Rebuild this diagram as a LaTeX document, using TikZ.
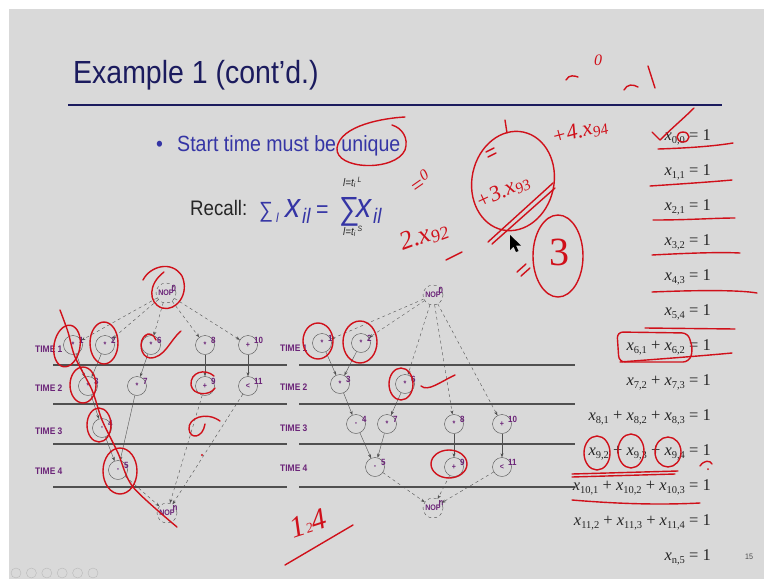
\documentclass[tikz,border=0pt]{standalone}
\usepackage{fontspec}
\setmainfont{Liberation Serif}
\newfontfamily\slidefont[FakeStretch=0.89]{Liberation Sans}
\newfontfamily\eqfont{Liberation Serif}
\usetikzlibrary{arrows.meta}
\definecolor{slidebg}{HTML}{D9D9D9}
\definecolor{titleblue}{HTML}{1B1B5E}
\definecolor{textblue}{HTML}{3535A5}
\definecolor{nodepurple}{HTML}{6B2478}
\definecolor{inkred}{HTML}{D0101A}
\definecolor{rulegray}{HTML}{505050}
\newcommand{\xv}[1]{\textit{x}\raisebox{-0.45ex}{\fontsize{10.5}{10.5}\selectfont #1}}

\tikzset{
  opnode/.style={circle, draw=rulegray, thin, minimum size=19pt, inner sep=0pt,
    text=nodepurple, font=\slidefont\bfseries\fontsize{8}{8}\selectfont},
  nopnode/.style={opnode, dashed, minimum size=20pt},
  idlab/.style={text=nodepurple, font=\slidefont\bfseries\fontsize{9}{9}\selectfont, inner sep=0.5pt},
  timelab/.style={anchor=west, inner sep=0pt, text=nodepurple, font=\slidefont\bfseries\fontsize{9.5}{9.5}\selectfont},
  dep/.style={-{Stealth[length=4pt,width=3pt]}, draw=rulegray, thin},
  ctl/.style={dep, dashed},
  level/.style={draw=rulegray, line width=1.1pt},
  ink/.style={draw=inkred, line width=1.4pt, line cap=round, line join=round},
  hand/.style={text=inkred, inner sep=0pt, font=\itshape\fontsize{20}{20}\selectfont},
  eqn/.style={anchor=base east, inner sep=0pt, text=black!85, font=\eqfont\fontsize{16.5}{16.5}\selectfont},
  slidetext/.style={anchor=base west, inner sep=0pt, text=textblue},
}

\begin{document}
\begin{tikzpicture}[x=1pt,y=-1pt]
\useasboundingbox (0,0) rectangle (764,579);
\fill[white] (0,0) rectangle (764,579);
\fill[slidebg] (9,9) rectangle (764,579);

% title and rule
\node[anchor=base west, inner sep=0pt, text=titleblue, font=\slidefont\fontsize{32}{32}\selectfont] (title) at (73,83) {Example 1 (cont’d.)};
\draw[titleblue, line width=2.4pt] (68,105) -- (722,105);

% bullet and recall
\node[slidetext, font=\slidefont\fontsize{22}{22}\selectfont] (bul) at (156,151) {•};
\node[slidetext, font=\slidefont\fontsize{22}{22}\selectfont] (point) at (177,151) {Start time must be unique};
\node[anchor=base west, inner sep=0pt, text=black!85, font=\slidefont\fontsize{21}{21}\selectfont] (recall) at (190,215) {Recall:};
\node[slidetext, font=\slidefont\fontsize{22}{22}\selectfont] (sig1) at (259,217) {∑};
\node[slidetext, font=\slidefont\itshape\fontsize{13}{13}\selectfont] (sub1) at (276,222) {l};
\node[slidetext, font=\slidefont\itshape\fontsize{34}{34}\selectfont] (x1) at (285,217) {x};
\node[slidetext, font=\slidefont\itshape\fontsize{21}{21}\selectfont] (il1) at (302,223) {il};
\node[slidetext, font=\slidefont\fontsize{24}{24}\selectfont] (eq) at (316,217) {=};
\node[slidetext, font=\slidefont\fontsize{32}{32}\selectfont] (sig2) at (339,219) {∑};
\node[slidetext, font=\slidefont\itshape\fontsize{34}{34}\selectfont] (x2) at (356,217) {x};
\node[slidetext, font=\slidefont\itshape\fontsize{21}{21}\selectfont] (il2) at (373,223) {il};
\node[anchor=base west, inner sep=0pt, text=black!85, font=\slidefont\itshape\fontsize{11}{11}\selectfont] (limup) at (343,186) {l=t\textsubscript{i}\textsuperscript{ L}};
\node[anchor=base west, inner sep=0pt, text=black!85, font=\slidefont\itshape\fontsize{11}{11}\selectfont] (limdn) at (343,235) {l=t\textsubscript{i}\textsuperscript{ S}};

% time steps
\foreach \y in {365,404,444,487} {
  \draw[level] (53,\y) -- (287,\y);
  \draw[level] (299,\y) -- (575,\y);
}
\node[timelab] (tl1) at (35,349) {TIME 1};
\node[timelab] (tl2) at (35,388) {TIME 2};
\node[timelab] (tl3) at (35,431) {TIME 3};
\node[timelab] (tl4) at (35,471) {TIME 4};
\node[timelab] (tr1) at (280,348) {TIME 1};
\node[timelab] (tr2) at (280,387) {TIME 2};
\node[timelab] (tr3) at (280,428) {TIME 3};
\node[timelab] (tr4) at (280,468) {TIME 4};

% left schedule
\node[nopnode, label={[idlab,anchor=west,xshift=-4pt]30:0}] (L0) at (166,293) {NOP};
\node[opnode, label={[idlab,anchor=west,xshift=-3pt]30:1}] (L1) at (73,345) {*};
\node[opnode, label={[idlab,anchor=west,xshift=-3pt]30:2}] (L2) at (105,345) {*};
\node[opnode, label={[idlab,anchor=west,xshift=-3pt]30:6}] (L6) at (151,345) {*};
\node[opnode, label={[idlab,anchor=west,xshift=-3pt]30:8}] (L8) at (205,345) {*};
\node[opnode, label={[idlab,anchor=west,xshift=-3pt]30:10}] (L10) at (248,345) {+};
\node[opnode, label={[idlab,anchor=west,xshift=-3pt]30:3}] (L3) at (88,386) {*};
\node[opnode, label={[idlab,anchor=west,xshift=-3pt]30:7}] (L7) at (137,386) {*};
\node[opnode, label={[idlab,anchor=west,xshift=-3pt]30:9}] (L9) at (205,386) {+};
\node[opnode, label={[idlab,anchor=west,xshift=-3pt]30:11}] (L11) at (248,386) {<};
\node[opnode, label={[idlab,anchor=west,xshift=-3pt]30:4}] (L4) at (102,428) {-};
\node[opnode, label={[idlab,anchor=west,xshift=-3pt]30:5}] (L5) at (118,470) {-};
\node[nopnode, label={[idlab,anchor=west,xshift=-4pt]30:n}] (Ln) at (167,513) {NOP};

% right schedule
\node[nopnode, label={[idlab,anchor=west,xshift=-4pt]30:0}] (R0) at (433,295) {NOP};
\node[opnode, label={[idlab,anchor=west,xshift=-3pt]30:1}] (R1) at (322,343) {*};
\node[opnode, label={[idlab,anchor=west,xshift=-3pt]30:2}] (R2) at (361,343) {*};
\node[opnode, label={[idlab,anchor=west,xshift=-3pt]30:3}] (R3) at (340,384) {*};
\node[opnode, label={[idlab,anchor=west,xshift=-3pt]30:6}] (R6) at (405,384) {*};
\node[opnode, label={[idlab,anchor=west,xshift=-3pt]30:4}] (R4) at (356,424) {-};
\node[opnode, label={[idlab,anchor=west,xshift=-3pt]30:7}] (R7) at (387,424) {*};
\node[opnode, label={[idlab,anchor=west,xshift=-3pt]30:8}] (R8) at (454,424) {*};
\node[opnode, label={[idlab,anchor=west,xshift=-3pt]30:10}] (R10) at (502,424) {+};
\node[opnode, label={[idlab,anchor=west,xshift=-3pt]30:5}] (R5) at (375,467) {-};
\node[opnode, label={[idlab,anchor=west,xshift=-3pt]30:9}] (R9) at (454,467) {+};
\node[opnode, label={[idlab,anchor=west,xshift=-3pt]30:11}] (R11) at (502,467) {<};
\node[nopnode, label={[idlab,anchor=west,xshift=-4pt]30:n}] (Rn) at (433,508) {NOP};

% dependences, same for both schedules
\foreach \g in {L,R} {
  \foreach \s in {1,2,6,8,10} \draw[ctl] (\g0) -- (\g\s);
  \foreach \a/\b in {1/3,2/3,3/4,4/5,6/7,7/5,8/9,10/11} \draw[dep] (\g\a) -- (\g\b);
  \foreach \s in {5,9,11} \draw[ctl] (\g\s) -- (\g n);
}

% constraints
\node[eqn] (c0) at (711,140) {\xv{0,0} = 1};
\node[eqn] (c1) at (711,175) {\xv{1,1} = 1};
\node[eqn] (c2) at (711,210) {\xv{2,1} = 1};
\node[eqn] (c3) at (711,245) {\xv{3,2} = 1};
\node[eqn] (c4) at (711,280) {\xv{4,3} = 1};
\node[eqn] (c5) at (711,315) {\xv{5,4} = 1};
\node[eqn] (c6) at (711,350) {\xv{6,1} + \xv{6,2} = 1};
\node[eqn] (c7) at (711,385) {\xv{7,2} + \xv{7,3} = 1};
\node[eqn] (c8) at (711,420) {\xv{8,1} + \xv{8,2} + \xv{8,3} = 1};
\node[eqn] (c9) at (711,455) {\xv{9,2} + \xv{9,3} + \xv{9,4} = 1};
\node[eqn] (c10) at (711,490) {\xv{10,1} + \xv{10,2} + \xv{10,3} = 1};
\node[eqn] (c11) at (711,525) {\xv{11,2} + \xv{11,3} + \xv{11,4} = 1};
\node[eqn] (c12) at (711,560) {\xv{n,5} = 1};
\node[anchor=base, inner sep=0pt, text=black!70, font=\slidefont\fontsize{8}{8}\selectfont] (pg) at (749,559) {15};

% player buttons
\foreach \i in {0,...,5} \draw[gray!55, thin] (16+15.4*\i,573) circle (5pt);

% ---- pen marks ----
\draw[ink] (405,117) .. controls (385,118) and (340,125) .. (337,148) .. controls (335,170) and (395,172) .. (405,150) .. controls (409,138) and (402,128) .. (392,125);
% left schedule marks
\draw[ink] (143,280) .. controls (150,266) and (172,260) .. (182,276) .. controls (190,294) and (176,312) .. (162,308) .. controls (148,303) and (148,284) .. (164,272);
\draw[ink] plot[smooth] coordinates {(60,310) (68,332) (75,357) (92,390) (102,420) (118,453) (133,487) (177,527)};
\draw[ink, rotate around={-10:(67,346)}] (67,346) ellipse [x radius=13pt, y radius=21pt];
\draw[ink] (104,343) ellipse [x radius=14pt, y radius=21pt];
\draw[ink] (146,335) .. controls (138,340) and (140,357) .. (150,358) .. controls (165,358) and (170,340) .. (181,331);
\draw[ink] (156,340) .. controls (154,334) and (148,332) .. (145,336);
\draw[ink] (83,385) ellipse [x radius=13pt, y radius=18pt];
\draw[ink] (214,376) .. controls (205,368) and (190,372) .. (191,385) .. controls (193,396) and (210,396) .. (215,388);
\draw[ink] (99,425) ellipse [x radius=12pt, y radius=17pt];
\draw[ink] (220,421) .. controls (206,411) and (188,418) .. (189,429) .. controls (190,440) and (203,438) .. (205,424);
\fill[inkred] (202,455) circle (1.2pt);
\draw[ink] (120,471) ellipse [x radius=17pt, y radius=23pt];
% right schedule marks
\draw[ink] (318,341) ellipse [x radius=15pt, y radius=18pt];
\draw[ink] (360,342) ellipse [x radius=17pt, y radius=21pt];
\draw[ink] (401,384) ellipse [x radius=12pt, y radius=16pt];
\draw[ink] (421,386) .. controls (428,392) and (440,382) .. (455,375);
\draw[ink] (449,464) ellipse [x radius=18pt, y radius=14pt];
\node[hand, rotate=18, font=\itshape\fontsize{30}{30}\selectfont] (ann124) at (308,523) {1{\fontsize{14}{14}\selectfont 2}4};
\draw[ink] (285,565) -- (353,525);
% working in the middle
\draw[ink] (566,80) .. controls (569,74) and (575,76) .. (578,77);
\node[hand, font=\itshape\fontsize{16}{16}\selectfont] (annz) at (598,60) {0};
\draw[ink] (624,90) .. controls (627,84) and (633,84) .. (638,87);
\draw[ink] (648,66) -- (655,88);
\node[hand, rotate=35, font=\itshape\fontsize{22}{22}\selectfont] (ann0) at (420,182) {=\textsuperscript{0}};
\node[hand, rotate=20, font=\itshape\fontsize{26}{26}\selectfont] (ann2) at (424,236) {2.x\textsubscript{92}};
\draw[ink] (446,260) -- (462,252);
\draw[ink, rotate around={-12:(513,181)}] (513,181) ellipse [x radius=41pt, y radius=50pt];
\draw[ink] (505,120) -- (507,133);
\draw[ink] (486,152) -- (494,148);
\draw[ink] (488,157) -- (496,153);
\node[hand, rotate=25, font=\itshape\fontsize{22}{22}\selectfont] (ann3) at (503,192) {+3.x\textsubscript{93}};
\draw[ink] (488,242) -- (553,183);
\draw[ink] (492,244) -- (555,188);
\node[hand, rotate=15, font=\itshape\fontsize{22}{22}\selectfont] (ann4) at (580,132) {+4.x\textsubscript{94}};
\draw[ink] (517,272) -- (526,264);
\draw[ink] (521,276) -- (530,268);
\draw[ink] (558,256) ellipse [x radius=25pt, y radius=41pt];
\node[hand, font=\fontsize{40}{40}\selectfont] (ann3b) at (559,252) {3};
\fill[black] (510,235) -- (510,250) -- (513.5,246.5) -- (516,252) -- (518.5,251) -- (516,245.5) -- (521,245.5) -- cycle;
% marks on the constraints
\draw[ink] (652,132) -- (660,140) .. controls (672,128) and (684,118) .. (694,108);
\draw[ink] (683,137) ellipse [x radius=6pt, y radius=5pt];
\draw[ink] (658,149) .. controls (690,148) and (715,146) .. (733,143);
\draw[ink] (650,186) .. controls (680,184) and (710,182) .. (732,180);
\draw[ink] (653,220) .. controls (690,220) and (715,218) .. (735,218);
\draw[ink] (652,255) .. controls (690,253) and (720,252) .. (740,253);
\draw[ink] (652,292) .. controls (700,290) and (740,290) .. (757,293);
\draw[ink] (645,328) -- (735,329);
\draw[ink, rounded corners=6pt] (617,332) -- (688,333) -- (693,350) -- (689,362) -- (619,362) -- cycle;
\draw[ink] (620,362) .. controls (660,359) and (700,356) .. (732,353);
\draw[ink] (597,453) ellipse [x radius=13pt, y radius=17pt];
\draw[ink] (631,451) ellipse [x radius=13pt, y radius=17pt];
\draw[ink] (668,452) ellipse [x radius=13pt, y radius=15pt];
\draw[ink] (572,474) -- (678,471);
\draw[ink] (572,477) -- (675,474);
\draw[ink] (700,466) .. controls (704,460) and (710,460) .. (712,464);
\fill[inkred] (708,469) circle (1pt);
\draw[ink] (572,500) .. controls (620,504) and (660,505) .. (700,503);
\end{tikzpicture}
\end{document}
